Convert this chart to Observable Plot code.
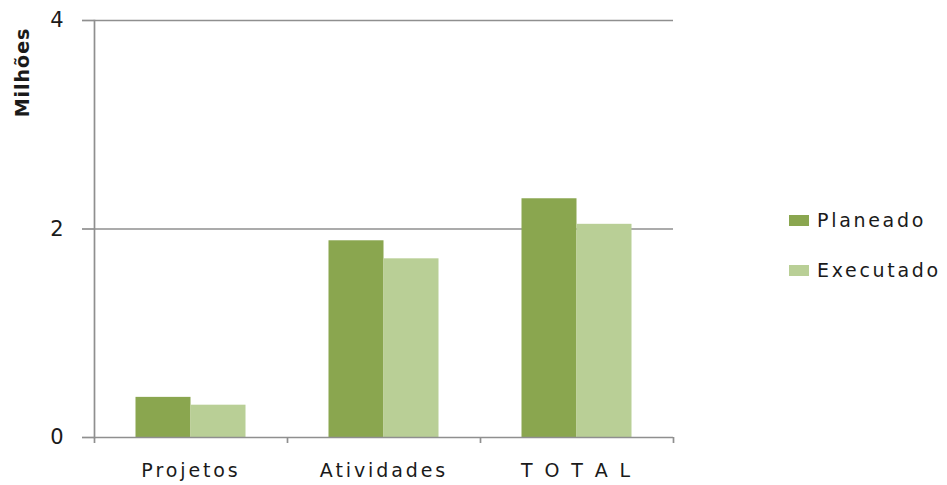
<!DOCTYPE html>
<html>
<head>
<meta charset="utf-8">
<script src="https://cdn.jsdelivr.net/npm/d3@7"></script>
<script src="https://cdn.jsdelivr.net/npm/@observablehq/plot@0.6"></script>
<style>
  body { margin: 0; background: #fff; }
  #wrap { position: relative; width: 947px; height: 485px; font-family: "DejaVu Sans", sans-serif; }
  #legend { position: absolute; left: 789px; top: 207px; }
  .item { display: flex; align-items: center; height: 26px; margin-bottom: 24px; }
  .sw { width: 20px; height: 11px; margin-right: 8px; }
  .lab { font-size: 19px; letter-spacing: 2.7px; color: #1a1a1a; line-height: 1; }
</style>
</head>
<body>
<div id="wrap">
  <div id="chart"></div>
  <div id="legend"></div>
</div>
<script>
// ---- data ----
const categories = ["Projetos", "Atividades", "T O T A L"];
const series = ["Planeado", "Executado"];
const planeado = [0.385, 1.887, 2.29];
const executado = [0.31, 1.714, 2.045];
const seriesColors = ["#8aa64f", "#b9cf96"];
const yTicks = [0, 2, 4];
const yLabel = "Milhões";

const values = [planeado, executado];
const rows = series.flatMap((s, k) =>
  categories.map((c, i) => ({ cat: c, series: s, value: values[k][i] }))
);

// ---- layout ----
const W = 947, H = 485;
const mL = 94, mR = 274, mT = 20, mB = 48;
const band = (W - mL - mR) / categories.length;
const barW = band * 0.285;
const outer = (band - 2 * barW) / 2;
const axisColor = "#8f8f8f";

const barMarks = series.map((s, k) =>
  Plot.barY(rows.filter(d => d.series === s), {
    x: "cat", y: "value", fill: seriesColors[k],
    insetLeft: k === 0 ? outer : outer + barW,
    insetRight: k === 0 ? outer + barW : outer
  })
);

const chart = Plot.plot({
  width: W, height: H,
  marginLeft: mL, marginRight: mR, marginTop: mT, marginBottom: mB,
  style: { fontFamily: "DejaVu Sans, sans-serif", fontSize: "20px", color: "#1a1a1a", background: "#fff" },
  x: { type: "band", domain: categories, padding: 0, label: null },
  y: { domain: [0, 4], label: null },
  marks: [
    Plot.gridY(yTicks.filter(t => t > 0), { stroke: axisColor, strokeOpacity: 1, strokeWidth: 1.7 }),
    ...barMarks,
    Plot.ruleY([0], { stroke: axisColor, strokeWidth: 1.7 }),
    Plot.frame({ anchor: "left", stroke: axisColor, strokeWidth: 1.7 }),
    Plot.axisY({ ticks: yTicks, tickFormat: d3.format("d"), tickSize: 12, tickPadding: 19, stroke: axisColor, strokeWidth: 1.7, label: null, fontSize: 21 }),
    Plot.axisX({ tickSize: 0, tickPadding: 26, label: null, fontSize: 19 }),
    Plot.axisX({ tickSize: 6, tickFormat: () => "", dx: -band / 2, stroke: axisColor, strokeWidth: 1.7, label: null }),
    Plot.axisX({ ticks: [categories[categories.length - 1]], tickSize: 6, tickFormat: () => "", dx: band / 2, stroke: axisColor, strokeWidth: 1.7, label: null }),
    Plot.text([yLabel], { text: d => d, frameAnchor: "top-left", textAnchor: "middle", lineAnchor: "middle", rotate: -90, dx: -72, dy: 52, fontWeight: "bold", fontSize: 19, fill: "#1a1a1a" })
  ]
});
document.getElementById("chart").appendChild(chart);
d3.select(chart).selectAll('[aria-label="x-axis tick label"] text').style("letter-spacing", "2.9px");
d3.select(chart).selectAll('[aria-label="text"] text').style("letter-spacing", "1px");

// ---- legend ----
const legend = d3.select("#legend");
series.forEach((s, k) => {
  const it = legend.append("div").attr("class", "item");
  it.append("div").attr("class", "sw").style("background", seriesColors[k]);
  it.append("span").attr("class", "lab").text(s);
});
</script>
</body>
</html>
